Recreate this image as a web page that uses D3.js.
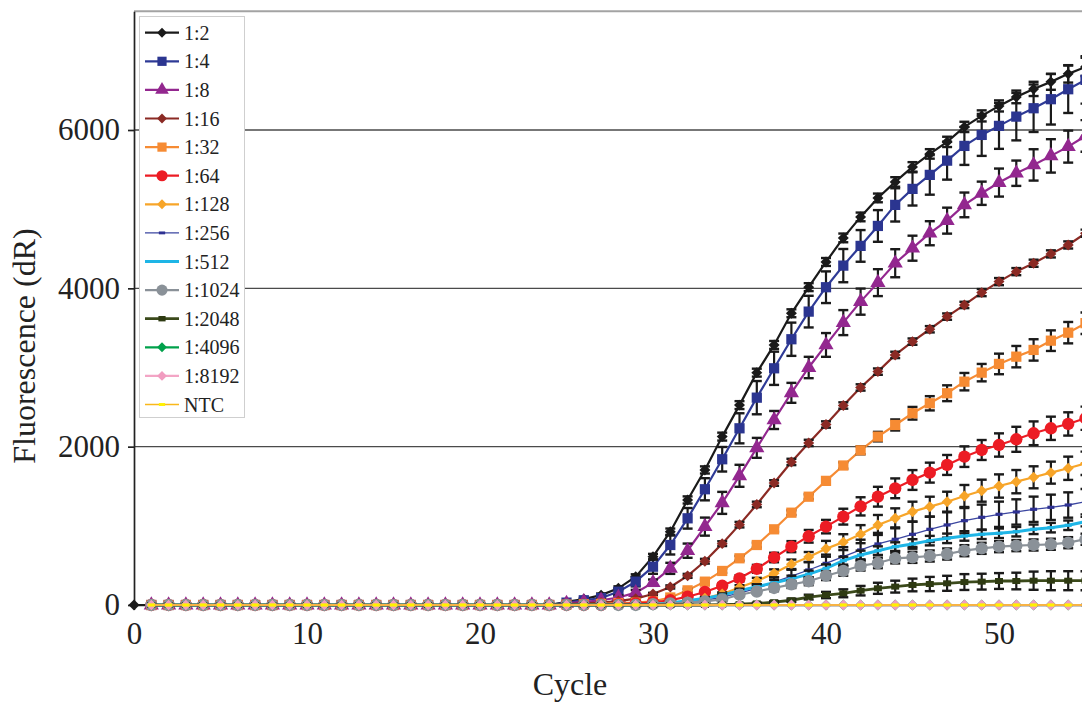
<!DOCTYPE html>
<html>
<head>
<meta charset="utf-8">
<script src="https://cdn.jsdelivr.net/npm/d3@7"></script>
<style>
  body { margin: 0; background: #fff; }
  svg { display: block; }
  text { font-family: "Liberation Serif", "Times New Roman", serif; }
</style>
</head>
<body>
<svg width="1082" height="706"></svg>
<script>
// cycles 0..55 (only 1:2 has a point at cycle 0)
const cycles = [0,1,2,3,4,5,6,7,8,9,10,11,12,13,14,15,16,17,18,19,20,21,22,23,24,25,26,27,28,29,30,31,32,33,34,35,36,37,38,39,40,41,42,43,44,45,46,47,48,49,50,51,52,53,54,55];
const labels = ["1:2","1:4","1:8","1:16","1:32","1:64","1:128","1:256","1:512","1:1024","1:2048","1:4096","1:8192","NTC"];

const v1_2 = [0,0,0,0,0,0,0,0,0,0,0,0,0,0,0,0,0,0,0,0,0,0,0,0,0,40,75,125,211,358,611,926,1327,1706,2127,2525,2935,3285,3685,4015,4333,4637,4902,5142,5344,5534,5698,5850,6039,6178,6304,6418,6519,6608,6709,6797];
const v1_4 = [null,0,0,0,0,0,0,0,0,0,0,0,0,0,0,0,0,0,0,0,0,0,0,0,0,30,60,88,168,295,484,758,1095,1462,1841,2232,2619,2990,3357,3706,4014,4287,4536,4788,5054,5256,5433,5613,5799,5938,6052,6169,6275,6389,6515,6633];
const v1_8 = [null,0,0,0,0,0,0,0,0,0,0,0,0,0,0,0,0,0,0,0,0,0,0,0,0,20,40,60,95,156,282,463,686,990,1290,1632,1985,2337,2680,3000,3285,3567,3832,4072,4317,4507,4696,4855,5054,5201,5336,5454,5559,5673,5790,5925];
const v1_16 = [null,0,0,0,0,0,0,0,0,0,0,0,0,0,0,0,0,0,0,0,0,0,0,0,0,10,20,30,50,80,139,228,368,553,775,1015,1270,1541,1807,2047,2280,2520,2748,2948,3159,3327,3483,3643,3790,3946,4085,4211,4317,4435,4548,4696];
const v1_32 = [null,0,0,0,0,0,0,0,0,0,0,0,0,0,0,0,0,0,0,0,0,0,0,0,0,5,10,15,25,30,45,95,185,295,430,590,758,956,1166,1368,1568,1762,1954,2127,2274,2422,2548,2675,2821,2935,3045,3137,3222,3339,3440,3559];
const v1_64 = [null,0,0,0,0,0,0,0,0,0,0,0,0,0,0,0,0,0,0,0,0,0,0,0,0,0,0,0,10,20,35,60,105,165,243,337,457,600,737,868,990,1116,1246,1368,1474,1579,1672,1769,1874,1958,2021,2093,2169,2232,2287,2359];
const v1_128 = [null,0,0,0,0,0,0,0,0,0,0,0,0,0,0,0,0,0,0,0,0,0,0,0,0,0,0,0,0,0,5,15,40,85,140,220,303,400,514,606,710,794,895,1011,1095,1179,1242,1305,1377,1444,1503,1558,1613,1672,1727,1790];
const v1_256 = [null,0,0,0,0,0,0,0,0,0,0,0,0,0,0,0,0,0,0,0,0,0,0,0,0,0,0,0,0,0,5,10,30,60,100,150,210,290,365,442,526,611,695,771,830,893,956,1011,1065,1108,1146,1175,1209,1234,1263,1305];
const v1_512 = [null,0,0,0,0,0,0,0,0,0,0,0,0,0,0,0,0,0,0,0,0,0,0,0,0,0,0,0,0,0,10,25,55,84,126,181,232,282,330,390,463,560,632,686,737,771,813,842,872,893,906,926,956,977,1007,1053];
const v1_1024 = [null,0,0,0,0,0,0,0,0,0,0,0,0,0,0,0,0,0,0,0,0,0,0,0,0,0,0,0,0,0,10,20,30,45,70,130,170,215,260,300,370,430,495,530,590,602,619,644,686,716,737,750,758,767,787,830];
const v1_2048 = [null,0,0,0,0,0,0,0,0,0,0,0,0,0,0,0,0,0,0,0,0,0,0,0,0,0,0,0,0,0,0,0,0,0,5,10,20,35,60,100,126,148,181,211,232,253,265,274,290,295,303,303,307,307,307,307];
const v1_4096 = [null,0,0,0,0,0,0,0,0,0,0,0,0,0,0,0,0,0,0,0,0,0,0,0,0,0,0,0,0,0,0,0,0,0,0,0,0,0,0,0,0,0,0,0,0,0,0,0,0,0,0,0,0,0,0,0];
const v1_8192 = [null,0,0,0,0,0,0,0,0,0,0,0,0,0,0,0,0,0,0,0,0,0,0,0,0,0,0,0,0,0,0,0,0,0,0,0,0,0,0,0,0,0,0,0,0,0,0,0,0,0,0,0,0,0,0,0];
const vNTC = [null,0,0,0,0,0,0,0,0,0,0,0,0,0,0,0,0,0,0,0,0,0,0,0,0,0,0,0,0,0,0,0,0,0,0,0,0,0,0,0,0,0,0,0,0,0,0,0,0,0,0,0,0,0,0,0];

// error bars (± value) for cycles 25..55
const errCycles = [25,26,27,28,29,30,31,32,33,34,35,36,37,38,39,40,41,42,43,44,45,46,47,48,49,50,51,52,53,54,55];
const e1_2 = [10,15,20,25,30,35,40,45,45,50,50,50,50,50,50,50,55,55,55,60,60,60,65,65,70,70,80,90,100,110,115];
const e1_4 = [10,20,30,40,60,90,120,130,140,155,190,210,210,210,200,200,210,200,200,210,210,250,240,240,265,290,300,300,320,300,300];
const e1_8 = [5,10,15,25,35,40,70,90,114,139,139,126,114,126,135,150,158,165,170,177,158,152,164,156,147,177,160,198,211,202,200];
const e1_16 = [0,0,5,5,10,15,20,25,30,30,35,35,35,40,40,40,40,40,40,40,40,40,40,40,45,45,45,45,45,45,45];
const e1_32 = [0,0,0,5,5,10,15,20,25,25,30,30,30,30,30,30,40,50,60,70,80,90,100,110,110,130,135,135,130,135,135];
const e1_64 = [0,0,0,0,5,5,10,15,20,30,40,50,60,70,80,85,100,115,125,125,125,126,126,130,126,147,158,150,147,147,147];
const e1_128 = [0,0,0,0,0,0,5,10,15,20,30,40,50,60,63,100,100,114,126,126,126,126,126,139,139,147,147,139,139,147,147];
const e1_256 = [0,0,0,0,0,0,5,10,15,20,30,40,60,80,100,110,120,130,140,150,160,160,160,160,160,160,160,160,160,160,160];
const e1_512 = [0,0,0,0,0,0,5,10,15,20,25,30,35,40,45,50,50,55,55,55,60,60,60,60,60,60,60,60,60,60,60];
const e1_1024 = [0,0,0,0,0,0,0,5,10,15,20,30,40,45,50,55,60,60,65,65,70,70,70,70,70,70,70,70,70,70,70];
const e1_2048 = [0,0,0,0,0,0,0,0,0,0,5,10,15,20,30,40,50,60,70,75,80,90,95,100,100,100,105,115,120,120,120];

const xTicks = [0, 10, 20, 30, 40, 50];
const yTicks = [0, 2000, 4000, 6000];
const yGrid = [2000, 4000, 6000];

const series = [
  { values: v1_2, err: e1_2, color: "#1a1a1a", marker: "diamond", mcolor: "#1a1a1a", lw: 2.2 },
  { values: v1_4, err: e1_4, color: "#2e3a96", marker: "square", mcolor: "#2b3590", lw: 2.2 },
  { values: v1_8, err: e1_8, color: "#93278f", marker: "triangle", mcolor: "#93278f", lw: 2.2 },
  { values: v1_16, err: e1_16, color: "#8b2a24", marker: "diamond", mcolor: "#8b2a24", lw: 2.2 },
  { values: v1_32, err: e1_32, color: "#f68b33", marker: "square", mcolor: "#f68b33", lw: 2.2 },
  { values: v1_64, err: e1_64, color: "#ec1c24", marker: "circle", mcolor: "#ec1c24", lw: 2.2 },
  { values: v1_128, err: e1_128, color: "#f7a529", marker: "diamond", mcolor: "#f7a529", lw: 2.2 },
  { values: v1_256, err: e1_256, color: "#3b46a0", marker: "dash", mcolor: "#2e3192", lw: 1.3 },
  { values: v1_512, err: e1_512, color: "#1eb5e6", marker: "dash", mcolor: "#1eb5e6", lw: 3 },
  { values: v1_1024, err: e1_1024, color: "#8a9198", marker: "circle", mcolor: "#8a9198", lw: 2.2 },
  { values: v1_2048, err: e1_2048, color: "#3b4a1b", marker: "block", mcolor: "#2e3a12", lw: 2.8 },
  { values: v1_4096, err: null, color: "#00a14b", marker: "diamond", mcolor: "#00a14b", lw: 2.2 },
  { values: v1_8192, err: null, color: "#f3a5c5", marker: "diamond", mcolor: "#f19cc0", lw: 2.2 },
  { values: vNTC, err: null, color: "#f9b81b", marker: "dash", mcolor: "#fff200", lw: 1.6 },
];

const svg = d3.select("svg");

const x = d3.scaleLinear().domain([0, 60]).range([134, 1172]);
const y = d3.scaleLinear().domain([0, 7500]).range([605, 11.25]);

// grid lines
svg.append("g")
  .selectAll("line")
  .data(yGrid)
  .enter()
  .append("line")
  .attr("x1", 134)
  .attr("x2", 1082)
  .attr("y1", (d) => y(d))
  .attr("y2", (d) => y(d))
  .attr("stroke", "#4a4a4a")
  .attr("stroke-width", 1.3);

// top border of plot area
svg.append("line")
  .attr("x1", 134)
  .attr("x2", 1082)
  .attr("y1", y(7500))
  .attr("y2", y(7500))
  .attr("stroke", "#a3a3a3")
  .attr("stroke-width", 2);

// axes
const yAxisG = svg.append("g")
  .attr("transform", "translate(134,0)")
  .call(d3.axisLeft(y).tickValues(yTicks).tickSize(6).tickSizeOuter(0).tickPadding(8).tickFormat(d3.format("d")));
yAxisG.selectAll("text").attr("font-size", 31).attr("fill", "#222");
yAxisG.selectAll("line, path").attr("stroke", "#222").attr("stroke-width", 1.7);

const xAxisG = svg.append("g")
  .attr("transform", "translate(0,605)")
  .call(d3.axisBottom(x).tickValues(xTicks).tickSize(5).tickSizeOuter(0).tickPadding(12));
xAxisG.selectAll("text").attr("font-size", 31).attr("fill", "#222");
xAxisG.selectAll("line, path").attr("stroke", "#222").attr("stroke-width", 1.4);

svg.append("text")
  .attr("transform", "translate(28,346) rotate(-90)")
  .attr("text-anchor", "middle")
  .attr("dominant-baseline", "middle")
  .attr("font-size", 32)
  .attr("fill", "#222")
  .text("Fluorescence (dR)");

svg.append("text")
  .attr("x", 570)
  .attr("y", 688)
  .attr("text-anchor", "middle")
  .attr("dominant-baseline", "middle")
  .attr("font-size", 32)
  .attr("fill", "#222")
  .text("Cycle");

// markers
const drawMarker = (sel, type, color, cx, cy, scale) => {
  const k = scale || 1;
  if (type === "dash" || type === "block") {
    const w = type === "dash" ? 7 : 8;
    const h = type === "dash" ? 3.2 : 6;
    sel.append("rect")
      .attr("x", cx - (w / 2) * k).attr("y", cy - (h / 2) * k)
      .attr("width", w * k).attr("height", h * k)
      .attr("fill", color);
    return;
  }
  const sym = {
    diamond: d3.symbol(d3.symbolSquare, 60 * k * k),
    square: d3.symbol(d3.symbolSquare, 105 * k * k),
    triangle: d3.symbol(d3.symbolTriangle, 100 * k * k),
    circle: d3.symbol(d3.symbolCircle, 120 * k * k),
  }[type];
  sel.append("path")
    .attr("d", sym())
    .attr("transform", `translate(${cx},${cy})` + (type === "diamond" ? " rotate(45)" : ""))
    .attr("fill", color);
};

const line = d3.line()
  .defined((d) => d.v != null)
  .x((d) => x(d.c))
  .y((d) => y(d.v));

const plot = svg.append("g");

series.forEach((s) => {
  const pts = cycles.map((c, i) => ({ c: c, v: s.values[i] }));
  const g = plot.append("g");

  g.append("path")
    .datum(pts)
    .attr("d", line)
    .attr("fill", "none")
    .attr("stroke", s.color)
    .attr("stroke-width", s.lw);

  if (s.err) {
    errCycles.forEach((c, i) => {
      const e = s.err[i];
      if (!e) return;
      const v = s.values[cycles.indexOf(c)];
      const cx = x(c);
      const y1 = y(v + e);
      const y2 = y(v - e);
      g.append("line").attr("x1", cx).attr("x2", cx).attr("y1", y1).attr("y2", y2)
        .attr("stroke", "#1a1a1a").attr("stroke-width", 2.2);
      [y1, y2].forEach((yy) => {
        g.append("line").attr("x1", cx - 5).attr("x2", cx + 5).attr("y1", yy).attr("y2", yy)
          .attr("stroke", "#1a1a1a").attr("stroke-width", 2.4);
      });
    });
  }

  pts.filter((d) => d.v != null).forEach((d) => {
    drawMarker(g, s.marker, s.mcolor, x(d.c), y(d.v));
  });
});

// legend
const legend = svg.append("g");
legend.append("rect")
  .attr("x", 139.5).attr("y", 16.5)
  .attr("width", 105).attr("height", 401)
  .attr("fill", "#fff")
  .attr("stroke", "#cfcfcf")
  .attr("stroke-width", 1);

labels.forEach((name, i) => {
  const s = series[i];
  const ly = 32.7 + i * 28.6;
  legend.append("line")
    .attr("x1", 145).attr("x2", 179)
    .attr("y1", ly).attr("y2", ly)
    .attr("stroke", s.color)
    .attr("stroke-width", s.lw);
  drawMarker(legend, s.marker, s.mcolor, 162, ly, 0.9);
  legend.append("text")
    .attr("x", 184)
    .attr("y", ly)
    .attr("dy", "0.35em")
    .attr("font-size", 20)
    .attr("fill", "#222")
    .text(name);
});
</script>
</body>
</html>
